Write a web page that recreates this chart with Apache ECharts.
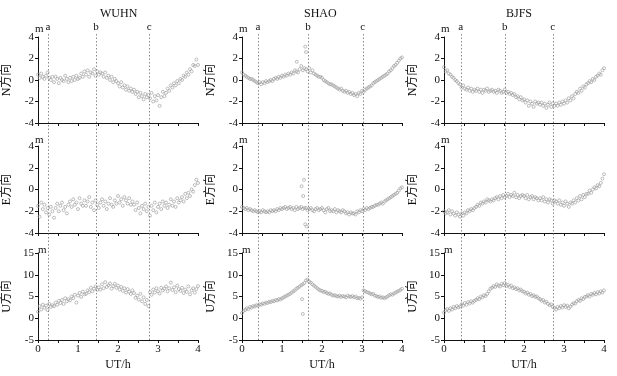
<!DOCTYPE html>
<html><head><meta charset="utf-8">
<script src="https://cdn.jsdelivr.net/npm/echarts@6/dist/echarts.min.js"></script>
<style>html,body{margin:0;padding:0;background:#fff}#c{width:617px;height:376px}</style>
</head><body><div id="c"></div>
<script>
// ---------- data ----------
const stations = ['WUHN', 'SHAO', 'BJFS'];
const components = ['N方向', 'E方向', 'U方向'];
const eventLabels = ['a', 'b', 'c'];
const xTickLabels = [0, 1, 2, 3, 4];
// sampling epochs (UT hours), 0.04 h apart
const sampleStep = 0.04;
const epochs = Array.from({length: 101}, (_, i) => +(i * sampleStep).toFixed(2));

const wuhnEvents = [0.25, 1.45, 2.78];
const shaoEvents = [0.40, 1.65, 3.02];
const bjfsEvents = [0.42, 1.52, 2.72];

const wuhnN = [
  0.5, 0.2, 0.6, 0.3, 0.1, 0.4, 0.7, 0.2, 0.0, 0.3,
  -0.2, 0.3, 0.1, -0.3, 0.2, 0.0, -0.1, 0.4, 0.1, -0.2,
  0.2, -0.1, 0.3, 0.0, 0.4, 0.1, 0.2, 0.6, 0.3, 0.8,
  0.5, 0.9, 0.3, 0.7, 0.6, 1.0, 0.4, 0.8, 0.5, 0.7,
  0.6, 0.3, 0.7, 0.2, 0.4, 0.0, 0.3, -0.2, 0.1, -0.1,
  -0.3, -0.6, -0.2, -0.7, -0.5, -0.9, -0.6, -1.0, -0.8, -1.1,
  -0.9, -1.3, -1.1, -1.6, -1.2, -1.5, -1.8, -1.3, -1.6, -1.4,
  -1.7, -1.2, -2.0, -1.5, -1.9, -1.4, -2.4, -1.6, -1.1, -1.5,
  -1.2, -0.8, -1.0, -0.5, -0.7, -0.3, -0.5, -0.1, -0.3, 0.1,
  0.0, 0.4, 0.3, 0.7, 0.5, 1.0, 0.8, 1.4, 1.3, 1.9,
  1.4
];
const wuhnE = [
  -1.5, -2.5, -1.2, -1.8, -1.4, -2.1, -1.7, -2.3, -1.6, -2.0,
  -2.6, -1.7, -1.3, -2.0, -1.5, -1.2, -1.9, -1.6, -2.2, -1.4,
  -1.1, -1.6, -0.9, -1.4, -1.2, -1.8, -0.8, -1.3, -1.5, -1.0,
  -1.5, -1.1, -0.7, -1.6, -1.2, -1.9, -1.0, -1.4, -1.7, -1.2,
  -0.9, -1.5, -1.1, -1.8, -1.3, -0.8, -1.4, -1.6, -1.0, -1.3,
  -0.6, -1.2, -0.9, -1.5, -0.7, -1.0, -1.3, -0.8, -1.4, -1.1,
  -1.4, -1.9, -1.2, -1.7, -2.2, -1.5, -1.8, -1.3, -2.0, -1.6,
  -2.4, -1.5, -1.9, -1.2, -2.1, -1.6, -1.3, -1.8, -1.1, -1.5,
  -1.2, -1.7, -1.4, -0.9, -1.5, -1.1, -1.6, -0.8, -1.2, -1.0,
  -0.7, -1.1, -0.4, -0.8, -0.3, -0.6, 0.0, -0.2, 0.4, 0.9,
  0.6
];
const wuhnU = [
  1.5, 2.8, 2.0, 3.1, 2.4, 2.9, 1.9, 3.3, 2.6, 3.0,
  2.8, 3.6, 3.1, 4.0, 3.5, 4.2, 3.3, 4.6, 3.9, 4.4,
  4.1, 5.0, 4.6, 5.4, 3.6, 5.2, 5.8, 4.9, 6.1, 5.5,
  5.6, 6.4, 6.0, 7.0, 6.2, 6.8, 7.3, 6.5, 7.1, 6.6,
  7.8, 6.9, 8.3, 7.2, 7.6, 8.0, 6.8, 7.4, 7.9, 7.0,
  7.5, 6.6, 7.2, 6.3, 6.9, 5.9, 6.7, 6.1, 5.6, 6.4,
  5.8, 4.7, 5.2, 4.3, 5.6, 3.9, 4.8, 3.3, 4.2, 2.8,
  6.0, 5.4, 6.6, 5.9, 6.9, 6.2, 5.7, 7.0, 6.4, 6.8,
  7.3, 6.2, 6.9, 8.2, 6.5, 7.1, 6.0, 7.5, 6.7, 6.3,
  7.0, 5.8, 6.6, 6.1, 7.3, 5.5, 6.4, 6.9, 5.9, 6.7,
  7.4
];
const shaoN = [
  0.7, 0.5, 0.4, 0.3, 0.2, 0.1, 0.1, 0.0, -0.1, -0.2,
  -0.3, -0.2, -0.4, -0.2, -0.3, -0.1, -0.2, -0.1, 0.0, -0.1,
  0.1, 0.2, 0.1, 0.3, 0.2, 0.4, 0.3, 0.5, 0.4, 0.6,
  0.5, 0.7, 0.6, 0.9, 0.8, 0.7, 1.0, 1.3, 0.9, 1.1,
  1.0, 0.8, 1.1, 0.7, 0.9, 0.6, 0.5, 0.4, 0.3, 0.3,
  0.2, 0.0, -0.1, -0.2, -0.3, -0.4, -0.4, -0.5, -0.6, -0.7,
  -0.8, -0.9, -0.8, -1.0, -1.1, -1.0, -1.2, -1.1, -1.3, -1.2,
  -1.4, -1.3, -1.5, -1.2, -1.3, -1.0, -1.1, -0.9, -0.8, -0.7,
  -0.6, -0.5, -0.3, -0.2, -0.1, 0.0, 0.1, 0.2, 0.3, 0.4,
  0.5, 0.6, 0.8, 0.9, 1.1, 1.3, 1.4, 1.6, 1.8, 2.0,
  2.1
];
const shaoNOutliers = [[1.58, 3.1], [1.60, 2.6], [1.37, 1.7]];
const shaoE = [
  -1.6, -1.7, -1.8, -1.7, -1.9, -1.8, -1.9, -2.0, -1.9, -2.0,
  -2.1, -2.0, -2.1, -1.9, -2.0, -2.1, -2.0, -2.1, -1.9, -2.0,
  -1.9, -2.0, -1.8, -1.9, -1.7, -1.8, -1.7, -1.6, -1.8, -1.7,
  -1.6, -1.8, -1.7, -1.9, -1.6, -1.8, -1.7, -1.6, -1.8, -1.7,
  -1.7, -1.9, -1.8, -1.7, -1.9, -2.0, -1.8, -1.7, -1.9, -1.8,
  -1.7, -1.9, -2.1, -1.8, -1.7, -2.0, -1.9, -2.0, -1.8, -2.1,
  -1.9, -2.0, -2.1, -1.9, -2.0, -2.2, -2.1, -2.3, -2.1, -2.2,
  -2.2, -2.3, -2.0, -2.1, -1.9, -2.0, -1.8, -1.9, -1.7, -1.8,
  -1.7, -1.6, -1.6, -1.5, -1.4, -1.4, -1.3, -1.2, -1.3, -1.1,
  -1.0, -0.9, -0.8, -0.7, -0.6, -0.5, -0.4, -0.3, -0.1, 0.1,
  0.2
];
const shaoEOutliers = [[1.49, 0.3], [1.55, 0.9], [1.53, -0.6], [1.58, -3.2], [1.62, -3.4]];
const shaoU = [
  1.2, 1.7, 1.9, 2.3, 2.1, 2.6, 2.4, 2.8, 2.7, 3.0,
  2.9, 3.2, 3.1, 3.4, 3.3, 3.6, 3.5, 3.8, 3.7, 4.0,
  3.9, 4.2, 4.1, 4.4, 4.3, 4.6, 4.8, 5.0, 5.2, 5.4,
  5.6, 5.9, 6.2, 6.4, 6.8, 7.0, 7.3, 7.6, 7.8, 8.1,
  8.7, 8.9, 8.4, 8.2, 7.8, 7.5, 7.2, 6.9, 6.6, 6.4,
  6.3, 6.0, 6.1, 5.8, 5.6, 5.7, 5.4, 5.2, 5.3, 5.1,
  5.0, 5.2, 4.9, 5.1, 5.0, 4.8, 5.2, 5.0, 4.9, 5.1,
  4.8, 5.0, 4.6, 4.7, 4.5, 4.8, 6.4, 6.2, 6.0, 5.9,
  5.7, 5.5, 5.6, 5.2, 5.1, 4.9, 5.0, 4.7, 4.8, 4.6,
  4.8, 5.0, 5.3, 5.5, 5.4, 5.7, 5.9, 6.1, 6.3, 6.5,
  6.8
];
const shaoUOutliers = [[1.50, 4.4], [1.52, 1.0]];
const bjfsN = [
  1.2, 0.8, 0.9, 0.6, 0.5, 0.3, 0.2, 0.0, -0.1, -0.3,
  -0.4, -0.7, -0.5, -0.8, -0.9, -0.7, -1.0, -0.8, -1.1, -0.9,
  -1.0, -0.8, -1.1, -0.9, -1.2, -0.9, -1.0, -0.8, -1.1, -1.0,
  -0.9, -1.1, -1.0, -1.2, -0.9, -1.0, -1.2, -1.1, -0.9, -1.2,
  -1.1, -1.3, -1.2, -1.4, -1.3, -1.6, -1.5, -1.8, -1.6, -1.9,
  -1.8, -2.1, -1.9, -2.4, -2.0, -2.2, -2.5, -2.0, -2.2, -2.1,
  -2.3, -2.1, -2.4, -2.2, -2.6, -2.3, -2.1, -2.5, -2.2, -2.4,
  -2.2, -2.4, -2.1, -2.3, -2.0, -2.2, -1.9, -2.1, -1.7, -1.9,
  -1.5, -1.7, -1.3, -1.1, -1.2, -0.8, -1.0, -0.6, -0.7, -0.4,
  -0.3, -0.1, -0.2, 0.1, 0.0, 0.3, 0.4, 0.6, 0.5, 0.9,
  1.1
];
const bjfsE = [
  -2.0, -2.2, -2.1, -1.9, -2.3, -2.0, -2.2, -2.4, -2.1, -2.3,
  -2.5, -2.2, -2.4, -2.1, -2.2, -1.9, -2.0, -1.8, -1.9, -1.7,
  -1.6, -1.4, -1.5, -1.2, -1.3, -1.1, -1.2, -0.9, -1.0, -1.1,
  -0.9, -1.0, -0.8, -0.7, -0.9, -0.6, -0.8, -0.5, -0.7, -0.6,
  -0.4, -0.7, -0.5, -0.6, -0.3, -0.7, -0.5, -0.8, -0.6, -0.5,
  -0.6, -0.8, -0.5, -0.9, -0.7, -0.6, -0.9, -0.7, -0.8, -1.0,
  -0.8, -1.0, -0.7, -1.1, -0.9, -1.2, -0.9, -1.0, -1.3, -1.0,
  -1.1, -1.3, -1.0, -1.4, -1.2, -1.5, -1.1, -1.3, -1.6, -1.2,
  -1.3, -1.0, -1.2, -0.8, -1.0, -0.6, -0.9, -0.5, -0.7, -0.4,
  -0.4, -0.1, -0.3, 0.0, 0.2, 0.1, 0.4, 0.3, 0.6, 1.0,
  1.4
];
const bjfsU = [
  1.3, 1.8, 2.1, 1.7, 2.3, 2.0, 2.6, 2.3, 2.8, 2.5,
  2.7, 3.2, 2.9, 3.5, 3.1, 3.7, 3.4, 3.9, 3.6, 4.0,
  4.2, 4.6, 4.4, 5.0, 4.8, 5.3, 5.1, 5.6, 6.2, 6.8,
  7.0, 7.4, 7.2, 7.8, 7.5, 7.3, 7.9, 7.6, 8.1, 7.4,
  7.7, 7.2, 7.5, 6.9, 7.1, 6.7, 6.9, 6.4, 6.6, 6.2,
  6.1, 5.7, 5.9, 5.4, 5.6, 5.1, 5.3, 4.9, 5.0, 4.6,
  4.4, 4.0, 4.2, 3.6, 3.8, 3.3, 3.0, 3.2, 2.6, 2.4,
  2.0, 2.6, 2.3, 2.8, 2.5, 3.0, 2.6, 2.9, 2.3, 2.7,
  3.1, 3.5, 3.4, 3.9, 4.2, 4.0, 4.6, 4.4, 4.9, 5.0,
  5.3, 5.0, 5.6, 5.4, 5.8, 5.5, 6.0, 5.7, 6.2, 5.9,
  6.4
];
const neTicks = [-4, -2, 0, 2, 4];
const uTicks = [-5, 0, 5, 10, 15];

// ---------- layout ----------
const stationEvents = [wuhnEvents, shaoEvents, bjfsEvents];
const panelValues = [
  [wuhnN, wuhnE, wuhnU],
  [shaoN, shaoE, shaoU],
  [bjfsN, bjfsE, bjfsU]
];
const panelOutliers = [
  [[], [], []],
  [shaoNOutliers, shaoEOutliers, shaoUOutliers],
  [[], [], []]
];
const colLeft = [38, 242, 444];
const colW = 160;
const rowTop = [37, 146, 253];
const rowH = [86, 87, 87];
const FONT = '"Liberation Serif", "Times New Roman", "Noto Sans CJK SC", serif';
const black = '#111';

const grid = [], xAxis = [], yAxis = [], series = [], graphic = [];

for (let c = 0; c < 3; c++) {
  graphic.push({type: 'text', left: colLeft[c] + colW / 2 - 18, top: 8,
    style: {text: stations[c], font: '12px ' + FONT, fill: black}});
  for (let r = 0; r < 3; r++) {
    const gi = grid.length;
    grid.push({left: colLeft[c], top: rowTop[r], width: colW, height: rowH[r], outerBoundsMode: 'none'});
    const isBottom = r === 2;
    xAxis.push({
      type: 'value', gridIndex: gi, min: 0, max: 4, interval: 1,
      axisLine: {show: true, onZero: false, lineStyle: {color: black, width: 1}},
      axisTick: {show: true, length: 3, lineStyle: {color: black}},
      minorTick: {show: true, splitNumber: 2, length: 3, lineStyle: {color: black}},
      splitLine: {show: false},
      axisLabel: {show: isBottom, margin: 4, fontFamily: FONT, fontSize: 11, color: black,
        formatter: v => xTickLabels.includes(v) ? String(v) : ''},
      name: isBottom ? 'UT/h' : '', nameLocation: 'middle', nameGap: 19,
      nameTextStyle: {fontFamily: FONT, fontSize: 12, color: black}
    });
    const ticks = r === 2 ? uTicks : neTicks;
    yAxis.push({
      type: 'value', gridIndex: gi, min: ticks[0], max: ticks[ticks.length - 1],
      interval: ticks[1] - ticks[0],
      axisLine: {show: true, onZero: false, lineStyle: {color: black, width: 1}},
      axisTick: {show: true, length: 3, lineStyle: {color: black}},
      splitLine: {show: false},
      axisLabel: {margin: 4, fontFamily: FONT, fontSize: 11, color: black},
      name: components[r], nameLocation: 'middle', nameGap: 25, nameRotate: 90,
      nameTextStyle: {fontFamily: FONT, fontSize: 12, color: black}
    });
    const vals = panelValues[c][r];
    const pts = epochs.map((t, i) => [t, vals[i]]).concat(panelOutliers[c][r]);
    series.push({
      type: 'scatter', xAxisIndex: gi, yAxisIndex: gi, data: pts, z: 3,
      symbol: 'circle', symbolSize: 3, silent: true,
      itemStyle: {color: 'rgba(255,255,255,0)', borderColor: '#999', borderWidth: 0.8}
    });
    graphic.push({type: 'text', left: colLeft[c] - 3 + (r === 2 ? 3 : 0), top: rowTop[r] - (r === 0 ? 13 : (r === 1 ? 11 : 8)),
      style: {text: 'm', font: '11px ' + FONT, fill: black}});
  }
}
// overlay grids for the event lines across each column
for (let c = 0; c < 3; c++) {
  const gi = grid.length;
  grid.push({left: colLeft[c], top: 33, width: colW, bottom: 376 - 340, outerBoundsMode: 'none'});
  xAxis.push({type: 'value', gridIndex: gi, min: 0, max: 4, show: false});
  yAxis.push({type: 'value', gridIndex: gi, min: 0, max: 1, show: false});
  series.push({
    type: 'scatter', xAxisIndex: gi, yAxisIndex: gi, data: [[0, 0]], symbolSize: 0, silent: true, z: 1,
    markLine: {
      symbol: 'none', silent: true, animation: false,
      lineStyle: {color: '#8a8a8a', width: 1, type: [1.5, 2]},
      label: {show: true, position: 'end', distance: 0, fontFamily: FONT, fontSize: 11, color: black},
      data: stationEvents[c].map((t, k) => ({xAxis: t, label: {formatter: eventLabels[k]}}))
    }
  });
}

const chart = echarts.init(document.getElementById('c'), null, {renderer: 'canvas'});
chart.setOption({animation: false, backgroundColor: '#fff', grid, xAxis, yAxis, series, graphic});
</script></body></html>
